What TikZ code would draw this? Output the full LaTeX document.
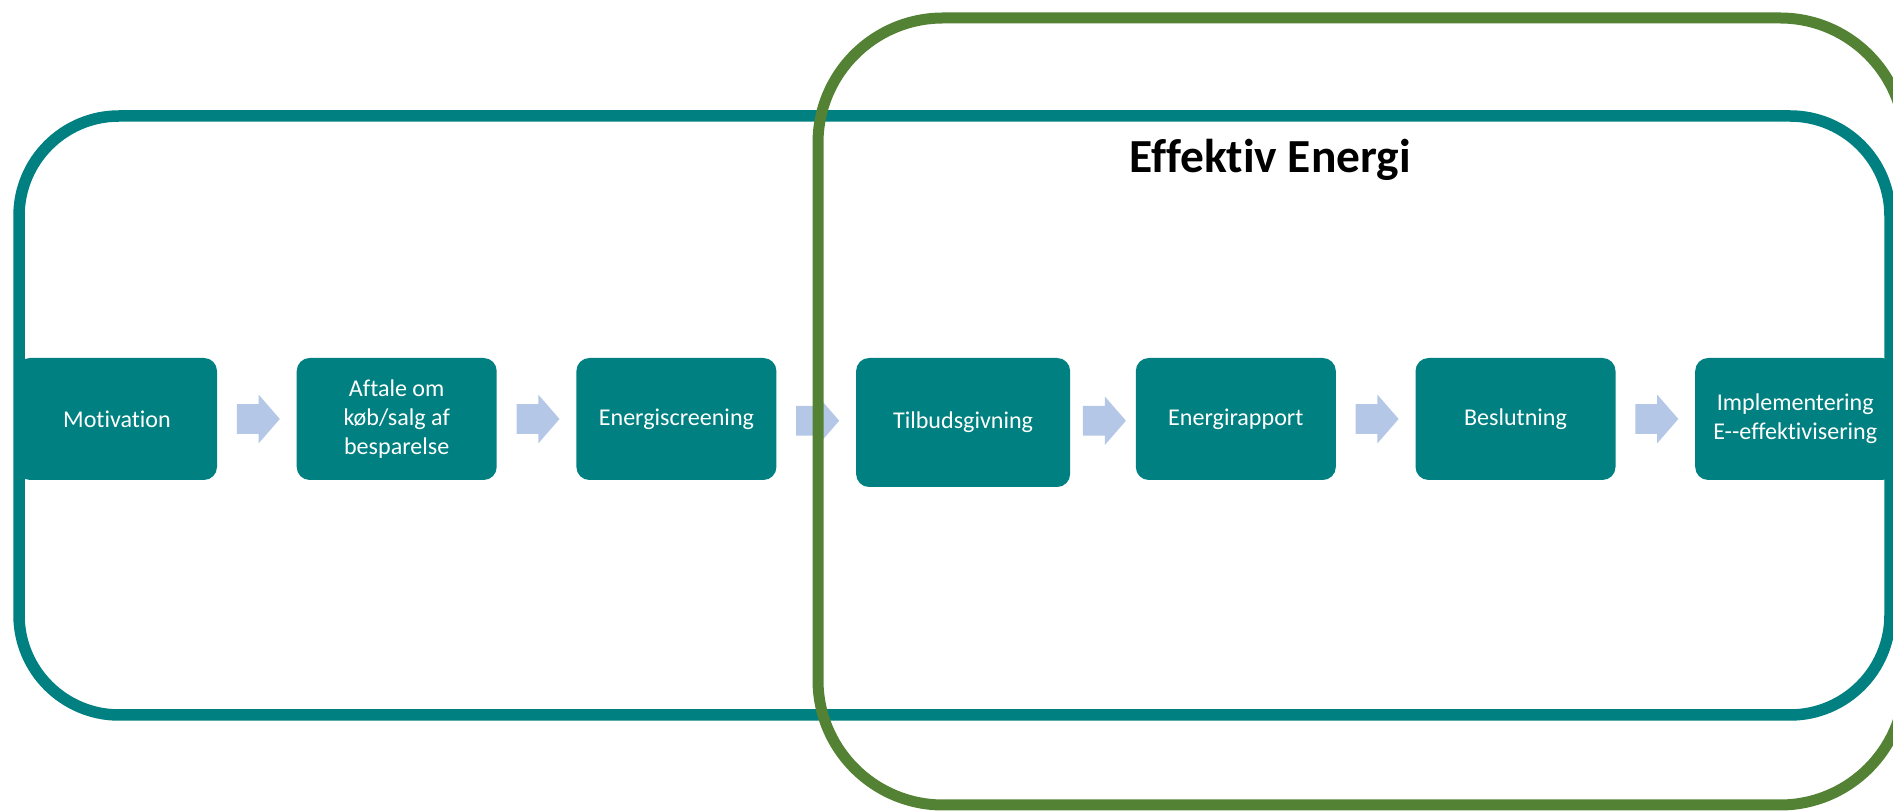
\documentclass[tikz,border=0pt]{standalone}
\usepackage{fontspec}
\setmainfont{Carlito}[Ligatures={TeX,NoCommon}]
\usetikzlibrary{positioning,shapes.arrows,calc}

\definecolor{boxteal}{RGB}{0,128,128}
\definecolor{framegreen}{RGB}{84,130,53}
\definecolor{arrowblue}{RGB}{180,199,231}

\tikzset{
  stepbox/.style={fill=boxteal, text=white, rounded corners=0.26cm, minimum width=4cm, minimum height=2.44cm, align=center, inner sep=0pt, font=\fontsize{13.7}{16.6}\selectfont},
  bigbox/.style={minimum width=4.28cm, minimum height=2.58cm},
  flowarrow/.style={single arrow, fill=arrowblue, minimum height=0.86cm, single arrow head extend=0.19cm, single arrow tip angle=98, inner xsep=0pt, inner ysep=0.29cm, xshift=-0.1cm},
}

\begin{document}
\begin{tikzpicture}
%\draw[step=1cm,gray,very thin] (0,0) grid (38,16); %background grid
\useasboundingbox (0,0) rectangle (37.86,16.22);
\clip (0,0) rectangle (37.86,16.22);
\node[stepbox] (motivation) at (2.34,7.84) {Motivation};
\node[stepbox, right=1.58cm of motivation] (aftale) {Aftale om\\køb/salg af\\besparelse};
\node[stepbox, right=1.58cm of aftale] (screening) {Energiscreening};
\node[stepbox, bigbox, right=1.58cm of screening.north east, anchor=north west] (tilbud) {Tilbudsgivning};
\node[stepbox, right=1.3cm of tilbud.north east, anchor=north west] (rapport) {Energirapport};
\node[stepbox, right=1.58cm of rapport] (beslutning) {Beslutning};
\node[stepbox, right=1.58cm of beslutning] (implement) {Implementering\\E-{}-effektivisering};
\node[flowarrow] (a1) at ($(motivation.east)!0.5!(aftale.west)$) {};
\node[flowarrow] (a2) at ($(aftale.east)!0.5!(screening.west)$) {};
\node[flowarrow] (a3) at ($(screening.east)!0.5!(tilbud.west)$) {};
\node[flowarrow] (a4) at ($(tilbud.east)!0.5!(rapport.west)$) {};
\node[flowarrow] (a5) at ($(rapport.east)!0.5!(beslutning.west)$) {};
\node[flowarrow] (a6) at ($(beslutning.east)!0.5!(implement.west)$) {};
\draw[boxteal, line width=0.23cm, rounded corners=2cm] (0.38,1.92) rectangle (37.8,13.9);
\draw[framegreen, line width=0.22cm, rounded corners=2.5cm] (16.36,0.12) rectangle (38.1,15.86);
\node[font=\fontsize{27}{31}\selectfont\bfseries, anchor=base] (title) at (25.4,12.76) {Effektiv Energi};
\end{tikzpicture}
\end{document}
